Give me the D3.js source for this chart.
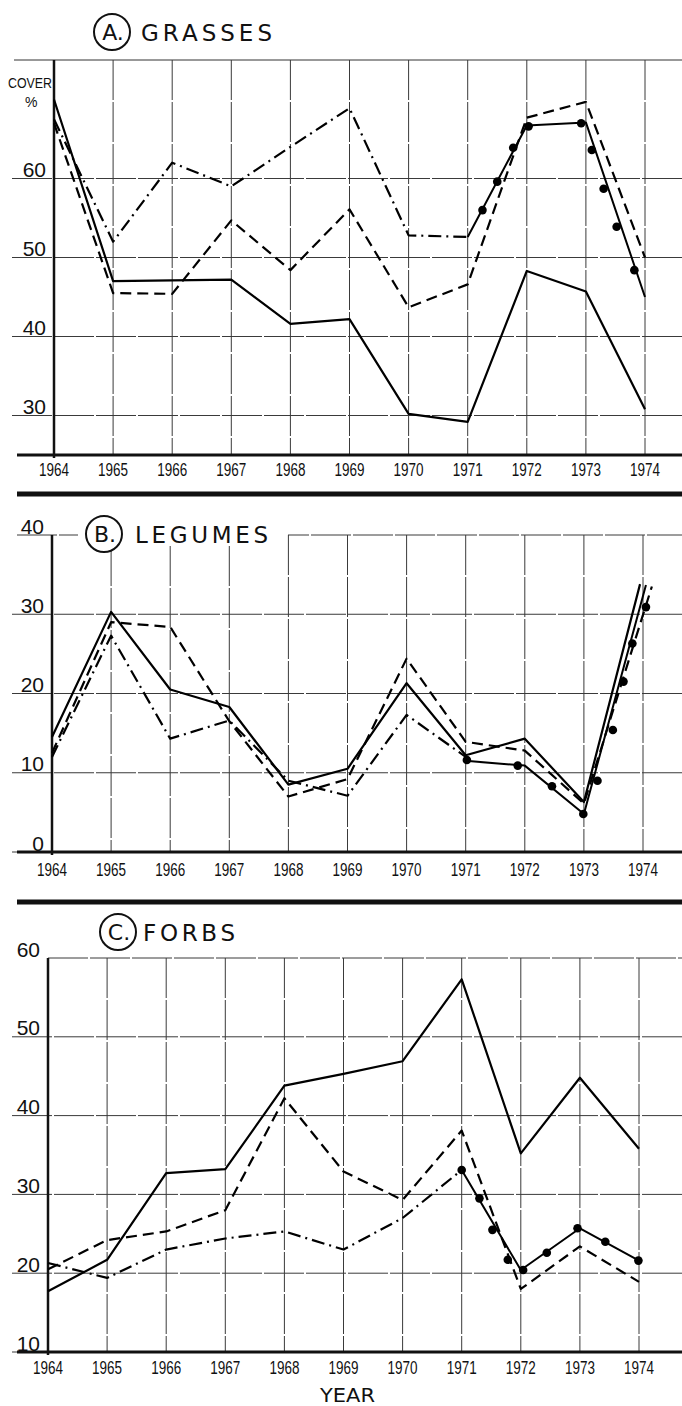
<!DOCTYPE html>
<html>
<head>
<meta charset="utf-8">
<script src="https://cdn.jsdelivr.net/npm/d3@7/dist/d3.min.js"></script>
<style>
  body { margin: 0; background: #fff; }
  svg { display: block; background: #fff; }
  text { font-family: "Liberation Sans", "DejaVu Sans", sans-serif; fill: #111; }
  .title { font-family: "DejaVu Sans", sans-serif; }
</style>
</head>
<body>
<svg width="682" height="1406"></svg>
<script>
// shared x values
var years = [1964, 1965, 1966, 1967, 1968, 1969, 1970, 1971, 1972, 1973, 1974];
var yearLabels = ["1964", "1965", "1966", "1967", "1968", "1969", "1970", "1971", "1972", "1973", "1974"];
var earlyYears = [1964, 1965, 1966, 1967, 1968, 1969, 1970, 1971];
var lateYears = [1971, 1972, 1973, 1974];

// A. grasses
var grassTicks = [30, 40, 50, 60];
var grassSolid = [70, 47, 47.1, 47.2, 41.6, 42.2, 30.2, 29.2, 48.3, 45.7, 30.8];
var grassDashed = [67, 45.5, 45.4, 54.7, 48.4, 56.1, 43.7, 46.6, 67.7, 69.7, 50];
var grassDashDot = [67.5, 52, 62, 59, 64, 68.9, 52.8, 52.6];
var grassDotLine = [52.6, 66.7, 67.1, 45];
var grassDots = [[1971.25, 56], [1971.5, 59.6], [1971.77, 63.9], [1972.03, 66.6], [1972.92, 67],
                 [1973.1, 63.6], [1973.3, 58.7], [1973.52, 53.9], [1973.82, 48.4]];

// B. legumes (the three rising lines of 1974 end side by side)
var legumeTicks = [0, 10, 20, 30, 40];
var legumeSolidYears = [1964, 1965, 1966, 1967, 1968, 1969, 1970, 1971, 1972, 1973, 1973.95];
var legumeSolid = [14.5, 30.3, 20.5, 18.3, 8.5, 10.5, 21.3, 12.2, 14.3, 6.3, 33.8];
var legumeDashedYears = [1964, 1965, 1966, 1967, 1968, 1969, 1970, 1971, 1972, 1973, 1974.15];
var legumeDashed = [12.5, 29, 28.4, 16.5, 7, 9.2, 24.4, 13.9, 12.8, 6.1, 33.5];
var legumeDashDot = [12, 27.3, 14.3, 16.6, 9, 7.1, 17.3, 12];
var legumeDotYears = [1971, 1972, 1973, 1974.05];
var legumeDotLine = [11.5, 10.9, 4.8, 33.7];
var legumeDots = [[1971.02, 11.6], [1971.88, 10.9], [1972.46, 8.3], [1972.99, 4.8], [1973.23, 9],
                  [1973.49, 15.4], [1973.67, 21.5], [1973.82, 26.3], [1974.05, 30.9]];

// C. forbs
var forbTicks = [10, 20, 30, 40, 50, 60];
var forbSolid = [17.7, 21.7, 32.7, 33.2, 43.8, 45.3, 46.9, 57.3, 35.2, 44.8, 35.8];
var forbDashed = [20.5, 24.2, 25.3, 28, 42.2, 32.9, 29.3, 38.1, 18, 23.4, 18.9];
var forbDashDot = [21.3, 19.4, 23, 24.4, 25.3, 23, 27, 33.1];
var forbDotLine = [33.1, 20.4, 25.7, 21.6];
var forbDots = [[1971, 33.1], [1971.3, 29.5], [1971.52, 25.5], [1971.78, 21.7], [1972.04, 20.4],
                [1972.44, 22.6], [1972.96, 25.7], [1973.43, 24], [1973.99, 21.6]];

var svg = d3.select("svg");

// pairs up x values with y values
function zip(xs, ys) {
    return xs.map(function (x, i) { return [x, ys[i]]; });
}

// panel layout, everything drawn through the scales below
var panels = [
    {
        letter: "A.", name: "GRASSES", titleX: 112, titleY: 32, nameX: 141, nameW: 131,
        x: d3.scaleLinear().domain([1964, 1974]).range([54, 645]),
        y: d3.scaleLinear().domain([25, 75]).range([455, 60]),
        ticks: grassTicks, labelY: 476, borderFrom: 14, gap: null,
        series: [
            { pts: zip(years, grassSolid), dash: null },
            { pts: zip(years, grassDashed), dash: "11,6" },
            { pts: zip(earlyYears, grassDashDot), dash: "13,5,2,5" },
            { pts: zip(lateYears, grassDotLine), dash: null, dotLine: true }
        ],
        dots: grassDots
    },
    {
        letter: "B.", name: "LEGUMES", titleX: 104, titleY: 534, nameX: 135, nameW: 133,
        x: d3.scaleLinear().domain([1964, 1974]).range([52, 643]),
        y: d3.scaleLinear().domain([0, 40]).range([852, 535]),
        ticks: legumeTicks, labelY: 876, borderFrom: 17, gap: [78, 288, 546],
        series: [
            { pts: zip(legumeSolidYears, legumeSolid), dash: null },
            { pts: zip(legumeDashedYears, legumeDashed), dash: "11,6" },
            { pts: zip(earlyYears, legumeDashDot), dash: "13,5,2,5" },
            { pts: zip(legumeDotYears, legumeDotLine), dash: null, dotLine: true }
        ],
        dots: legumeDots
    },
    {
        letter: "C.", name: "FORBS", titleX: 118, titleY: 932, nameX: 143, nameW: 92,
        x: d3.scaleLinear().domain([1964, 1974]).range([48, 639]),
        y: d3.scaleLinear().domain([10, 60]).range([1352, 958]),
        ticks: forbTicks, labelY: 1374, borderFrom: 48, gap: null,
        series: [
            { pts: zip(years, forbSolid), dash: null },
            { pts: zip(years, forbDashed), dash: "11,6" },
            { pts: zip(earlyYears, forbDashDot), dash: "13,5,2,5" },
            { pts: zip(lateYears, forbDotLine), dash: null, dotLine: true }
        ],
        dots: forbDots
    }
];

panels.forEach(drawPanel);

// heavy rules between the panels
svg.selectAll(".sep")
    .data([494, 902])
    .enter().append("line")
    .attr("x1", 17).attr("x2", 682)
    .attr("y1", function (d) { return d; })
    .attr("y2", function (d) { return d; })
    .attr("stroke", "#111")
    .attr("stroke-width", 5);

// cover % label in panel A
svg.append("text").attr("x", 8).attr("y", 88).attr("font-size", 14)
    .attr("textLength", 44).attr("lengthAdjust", "spacingAndGlyphs").text("COVER");
svg.append("text").attr("x", 25).attr("y", 107).attr("font-size", 14).text("%");

// x axis title under the last panel
svg.append("text")
    .attr("x", 320).attr("y", 1402)
    .attr("font-size", 20)
    .attr("textLength", 55)
    .attr("lengthAdjust", "spacingAndGlyphs")
    .style("font-family", "DejaVu Sans, sans-serif")
    .text("YEAR");

function drawPanel(p) {
    var g = svg.append("g");
    var x = p.x, y = p.y;
    var yTop = y.range()[1], yBot = y.range()[0];
    var x0 = x(1964);

    // horizontal grid lines, the top one is the border
    g.selectAll(".hgrid")
        .data(p.ticks)
        .enter().append("line")
        .attr("x1", function (d) { return d === y.domain()[1] ? p.borderFrom : 12; })
        .attr("x2", 682)
        .attr("y1", function (d) { return y(d); })
        .attr("y2", function (d) { return y(d); })
        .attr("stroke", "#3a3a3a")
        .attr("stroke-width", 1)
        .attr("stroke-dasharray", "40,2");

    // top border (if not one of the ticks)
    if (p.ticks.indexOf(y.domain()[1]) < 0) {
        g.append("line")
            .attr("x1", p.borderFrom).attr("x2", 682)
            .attr("y1", yTop).attr("y2", yTop)
            .attr("stroke", "#333").attr("stroke-width", 1);
    }

    // legumes: the top line is broken by the title
    if (p.gap) {
        g.append("rect")
            .attr("x", p.gap[0]).attr("y", yTop - 3)
            .attr("width", p.gap[1] - p.gap[0]).attr("height", 6)
            .attr("fill", "#fff");
    }

    // vertical year grid lines
    g.selectAll(".vgrid")
        .data(years.slice(1))
        .enter().append("line")
        .attr("x1", function (d) { return x(d); })
        .attr("x2", function (d) { return x(d); })
        .attr("y1", function (d) { return p.gap && x(d) < p.gap[1] ? p.gap[2] : yTop; })
        .attr("y2", yBot)
        .attr("stroke", "#3a3a3a")
        .attr("stroke-width", 1)
        .attr("stroke-dasharray", "40,2");

    // y axis and base line
    g.append("line")
        .attr("x1", x0).attr("x2", x0)
        .attr("y1", yTop).attr("y2", yBot + 3)
        .attr("stroke", "#111").attr("stroke-width", 2.5);
    g.append("line")
        .attr("x1", 17).attr("x2", 682)
        .attr("y1", yBot).attr("y2", yBot)
        .attr("stroke", "#111").attr("stroke-width", 3);

    // y tick labels sit on their grid line
    g.selectAll(".ylab")
        .data(p.ticks)
        .enter().append("text")
        .attr("x", x0 - 8)
        .attr("y", function (d) { return y(d) - 1.5; })
        .attr("text-anchor", "end")
        .attr("font-size", 21)
        .text(function (d) { return d; });

    // year labels
    g.selectAll(".xlab")
        .data(years)
        .enter().append("text")
        .attr("x", function (d) { return x(d) - 15; })
        .attr("y", p.labelY)
        .attr("font-size", 18)
        .attr("textLength", 30)
        .attr("lengthAdjust", "spacingAndGlyphs")
        .text(function (d, i) { return yearLabels[i]; });

    // circled letter and title
    g.append("circle")
        .attr("cx", p.titleX).attr("cy", p.titleY).attr("r", 18)
        .attr("fill", "#fff").attr("stroke", "#111").attr("stroke-width", 2);
    g.append("text")
        .attr("class", "title")
        .attr("x", p.titleX + 1).attr("y", p.titleY + 8)
        .attr("text-anchor", "middle")
        .attr("font-size", 22)
        .text(p.letter);
    g.append("text")
        .attr("class", "title")
        .attr("x", p.nameX).attr("y", p.titleY + 8.5)
        .attr("font-size", 23)
        .attr("textLength", p.nameW)
        .attr("lengthAdjust", "spacing")
        .text(p.name);

    // data lines
    var line = d3.line()
        .x(function (d) { return x(d[0]); })
        .y(function (d) { return y(d[1]); });

    g.selectAll(".series")
        .data(p.series)
        .enter().append("path")
        .attr("d", function (d) { return line(d.pts); })
        .attr("fill", "none")
        .attr("stroke", "#000")
        .attr("stroke-width", function (d) { return d.dotLine ? 2 : 2.2; })
        .attr("stroke-linejoin", "round")
        .attr("stroke-dasharray", function (d) { return d.dash; });

    // big dots along the dotted series
    g.selectAll(".dot")
        .data(p.dots)
        .enter().append("circle")
        .attr("cx", function (d) { return x(d[0]); })
        .attr("cy", function (d) { return y(d[1]); })
        .attr("r", 4.3)
        .attr("fill", "#000");
}
</script>
</body>
</html>
